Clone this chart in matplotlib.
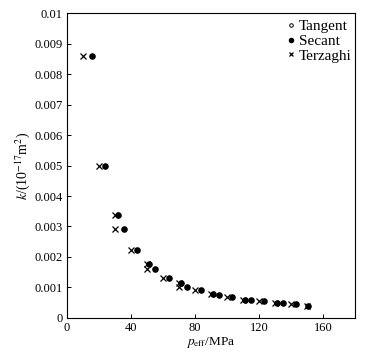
import matplotlib
matplotlib.use("Agg")
import matplotlib.pyplot as plt

plt.rcParams["font.family"] = ["Liberation Serif", "DejaVu Serif"]
plt.rcParams["mathtext.fontset"] = "stix"

# Terzaghi
terz_p = [10, 20, 30, 30, 40, 50, 50, 60, 70, 70, 80, 90, 100, 110, 120, 130, 140, 150]
terz_k = [0.0086, 0.00498, 0.00339, 0.00293, 0.00223, 0.00177, 0.0016, 0.00131, 0.00114,
          0.00103, 0.00092, 0.00078, 0.00068, 0.00059, 0.00056, 0.00049, 0.00044, 0.00039]

# secant
sec_p = [15.5, 24, 32, 35.5, 43.5, 51.5, 55, 63.5, 71.5, 75, 83.5, 91.5, 95, 103.5,
         111.5, 115, 123, 131.5, 135, 143, 150.5]
sec_k = [0.0086, 0.00498, 0.00339, 0.00293, 0.00223, 0.00177, 0.0016, 0.00131, 0.00114,
         0.00103, 0.00092, 0.00078, 0.00075, 0.00068, 0.00059, 0.00059, 0.00056, 0.00049,
         0.00049, 0.00044, 0.00039]

# tangent (hidden under the secant points)
tan_p = sec_p
tan_k = sec_k

yticks = [0, 0.001, 0.002, 0.003, 0.004, 0.005, 0.006, 0.007, 0.008, 0.009, 0.01]
ylabels = ["0", "0.001", "0.002", "0.003", "0.004", "0.005", "0.006", "0.007", "0.008", "0.009", "0.01"]
xticks = [0, 40, 80, 120, 160]

fig = plt.figure(figsize=(3.70, 3.56), dpi=100)
ax = fig.add_axes([0.181, 0.107, 0.778, 0.856])

ax.plot(tan_p, tan_k, "o", ms=3.2, mfc="white", mec="black", mew=0.7, ls="none", label="Tangent")
ax.plot(sec_p, sec_k, "o", ms=3.7, color="black", ls="none", label="Secant")
ax.plot(terz_p, terz_k, "x", ms=3.7, color="black", mew=0.9, ls="none", label="Terzaghi")

ax.set_xlim(0, 180)
ax.set_ylim(0, 0.01)
ax.set_xticks(xticks)
ax.set_yticks(yticks)
ax.set_yticklabels(ylabels)
ax.tick_params(direction="in", length=3, labelsize=9, width=0.7, pad=3)
for s in ax.spines.values():
    s.set_linewidth(0.8)

ax.set_xlabel(r"$p_{\rm eff}$/MPa", fontsize=9.5, labelpad=1)
ax.set_ylabel(r"$k$/(10$^{-17}$m$^2$)", fontsize=10, labelpad=2)

leg = ax.legend(loc="upper right", fontsize=11, frameon=False, handlelength=0.5,
                handletextpad=0.3, labelspacing=0.08, borderaxespad=0.0, borderpad=0.1,
                bbox_to_anchor=(0.995, 0.985), markerscale=0.8)

fig.savefig("out.png", dpi=100)
